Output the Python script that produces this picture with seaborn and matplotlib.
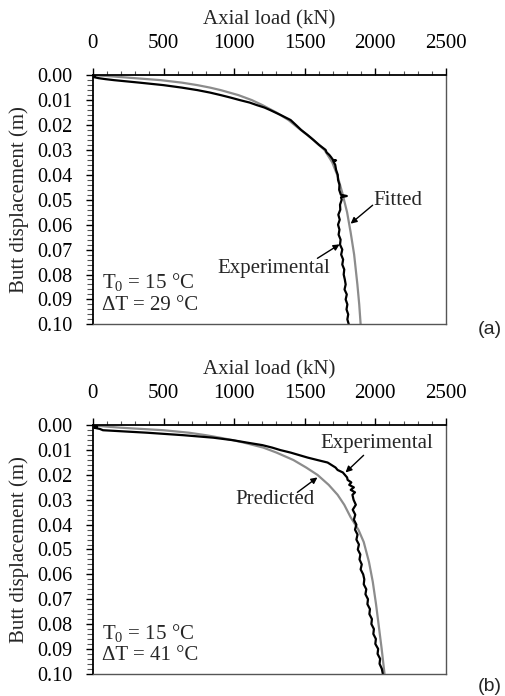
import numpy as np
import pandas as pd
import matplotlib
matplotlib.use("Agg")
import matplotlib.pyplot as plt
import seaborn as sns
from matplotlib.ticker import MultipleLocator, FormatStrFormatter

# ---------------- data ----------------
# Panel (a): experimental
a_exp_disp = [0.000, 0.0004, 0.0008, 0.0012, 0.0016, 0.002, 0.003, 0.004, 0.005, 0.006,
              0.007, 0.008, 0.009, 0.010, 0.011, 0.012, 0.013, 0.014, 0.016, 0.018,
              0.020, 0.022, 0.024, 0.026, 0.028, 0.030, 0.031, 0.032, 0.033, 0.034,
              0.0342, 0.0345, 0.036, 0.038, 0.040, 0.042, 0.044, 0.046, 0.048, 0.0485,
              0.049, 0.050, 0.052, 0.054, 0.056, 0.058, 0.060, 0.062, 0.064, 0.066,
              0.068, 0.070, 0.072, 0.074, 0.076, 0.078, 0.080, 0.082, 0.084, 0.086,
              0.088, 0.090, 0.092, 0.094, 0.096, 0.098, 0.100]
a_exp_load = [0, 15, 8, 40, 90, 150, 330, 500, 630, 740,
              830, 905, 975, 1040, 1110, 1160, 1215, 1255, 1330, 1400,
              1438, 1475, 1520, 1562, 1602, 1648, 1655, 1674, 1688, 1700,
              1722, 1702, 1716, 1722, 1734, 1736, 1746, 1744, 1756, 1798,
              1757, 1762, 1750, 1752, 1738, 1748, 1736, 1746, 1740, 1754,
              1750, 1766, 1758, 1772, 1766, 1780, 1776, 1784, 1790, 1782,
              1798, 1790, 1802, 1796, 1808, 1802, 1812]

# Panel (a): fitted
a_fit_disp = [0.000, 0.0005, 0.001, 0.002, 0.003, 0.004, 0.005, 0.006, 0.008, 0.010,
              0.012, 0.015, 0.018, 0.021, 0.025, 0.030, 0.035, 0.040, 0.047, 0.055,
              0.063, 0.072, 0.084, 0.092, 0.100]
a_fit_load = [0, 140, 250, 480, 630, 740, 830, 905, 1030, 1125,
              1200, 1300, 1385, 1450, 1540, 1640, 1695, 1730, 1765, 1800,
              1825, 1850, 1873, 1886, 1896]

# Panel (b): experimental
b_exp_disp = [0.000, 0.0005, 0.001, 0.0015, 0.002, 0.003, 0.004, 0.005, 0.006, 0.007,
              0.008, 0.009, 0.010, 0.011, 0.012, 0.013, 0.014, 0.015, 0.016, 0.017,
              0.018, 0.019, 0.020, 0.021, 0.022, 0.023, 0.024, 0.025, 0.026, 0.027,
              0.028, 0.030, 0.032, 0.034, 0.036, 0.038, 0.040, 0.042, 0.044, 0.046,
              0.048, 0.050, 0.052, 0.054, 0.056, 0.058, 0.060, 0.062, 0.064, 0.066,
              0.068, 0.070, 0.072, 0.074, 0.076, 0.078, 0.080, 0.082, 0.084, 0.086,
              0.088, 0.090, 0.092, 0.094, 0.096, 0.098, 0.100]
b_exp_load = [0, 30, 10, 50, 71, 383, 640, 852, 990, 1093,
              1200, 1270, 1328, 1400, 1460, 1520, 1590, 1662, 1690, 1718,
              1733, 1770, 1785, 1800, 1804, 1830, 1815, 1848, 1826, 1856,
              1838, 1846, 1862, 1840, 1858, 1848, 1866, 1856, 1874, 1866,
              1884, 1876, 1894, 1888, 1904, 1896, 1914, 1922, 1918, 1936,
              1930, 1948, 1944, 1962, 1958, 1976, 1972, 1990, 1986, 2004,
              2000, 2020, 2016, 2034, 2030, 2046, 2053]

# Panel (b): predicted
b_pred_disp = [0.000, 0.0005, 0.001, 0.002, 0.003, 0.004, 0.005, 0.006, 0.007, 0.009,
               0.011, 0.014, 0.017, 0.020, 0.024, 0.028, 0.032, 0.037, 0.042, 0.047,
               0.055, 0.063, 0.072, 0.081, 0.090, 0.100]
b_pred_load = [0, 90, 200, 500, 680, 800, 900, 990, 1070, 1207,
               1300, 1420, 1510, 1591, 1670, 1733, 1780, 1825, 1880, 1918,
               1955, 1982, 2005, 2025, 2045, 2065]

x_ticks = [0, 500, 1000, 1500, 2000, 2500]
y_ticks = [0.00, 0.01, 0.02, 0.03, 0.04, 0.05, 0.06, 0.07, 0.08, 0.09, 0.10]

# ---------------- style ----------------
sns.set_theme(style="ticks")
plt.rcParams["font.family"] = ["Liberation Serif", "DejaVu Serif"]
plt.rcParams["mathtext.fontset"] = "custom"
plt.rcParams["mathtext.rm"] = "Liberation Serif"
plt.rcParams["mathtext.it"] = "Liberation Serif:italic"
FS = 15

fig = plt.figure(figsize=(5.05, 6.96), dpi=100)
ax_a = fig.add_axes([0.184, 0.534, 0.699, 0.358])
ax_b = fig.add_axes([0.184, 0.032, 0.699, 0.357])

EXP_COL = "black"
FIT_COL = "#8c8c8c"


def style_axis(ax):
    ax.set_xlim(0, 2500)
    ax.set_ylim(0.10, 0.0)
    ax.xaxis.tick_top()
    ax.xaxis.set_label_position("top")
    ax.set_xticks(x_ticks)
    ax.set_xticklabels([str(t) for t in x_ticks])
    ax.xaxis.set_minor_locator(MultipleLocator(100))
    ax.set_yticks(y_ticks)
    ax.yaxis.set_major_formatter(FormatStrFormatter("%.2f"))
    ax.yaxis.set_minor_locator(MultipleLocator(0.002))
    ax.tick_params(axis="x", which="major", direction="out", length=5, width=1,
                   pad=11, labelsize=FS, colors="black")
    ax.tick_params(axis="x", which="minor", direction="out", length=3, width=0.8,
                   top=True, bottom=False, color="#555555")
    ax.tick_params(axis="y", which="major", direction="out", length=5, width=1,
                   pad=10, labelsize=14.5, colors="black")
    ax.tick_params(axis="y", which="minor", direction="out", length=4, width=0.8,
                   color="#555555")
    ax.set_xlabel("Axial load (kN)", fontsize=FS, labelpad=7)
    ax.set_ylabel("Butt displacement (m)", fontsize=FS, labelpad=6)
    for s in ["left", "top"]:
        ax.spines[s].set_color("black")
        ax.spines[s].set_linewidth(1.3)
    for s in ["right", "bottom"]:
        ax.spines[s].set_color("#555555")
        ax.spines[s].set_linewidth(1.0)


arrow_kw = dict(arrowstyle="-|>", color="black", lw=1.0, mutation_scale=9,
                shrinkA=0, shrinkB=0)

# Panel (a)
sns.lineplot(x=a_fit_load, y=a_fit_disp, sort=False, estimator=None,
             color=FIT_COL, lw=1.6, ax=ax_a)
sns.lineplot(x=a_exp_load, y=a_exp_disp, sort=False, estimator=None,
             color=EXP_COL, lw=1.6, ax=ax_a)
style_axis(ax_a)
ax_a.text(1988, 0.0502, "Fitted", fontsize=FS, ha="left", va="center")
ax_a.annotate("", xy=(1825, 0.0596), xytext=(1981, 0.0522), arrowprops=arrow_kw)
ax_a.text(1683, 0.0776, "Experimental", fontsize=FS, ha="right", va="center")
ax_a.annotate("", xy=(1747, 0.0679), xytext=(1590, 0.0735), arrowprops=arrow_kw)
ax_a.text(0.025, 0.169, "T$_{\\mathrm{0}}$ = 15 °C", transform=ax_a.transAxes,
          fontsize=FS, ha="left", va="center")
ax_a.text(0.025, 0.076, "ΔT = 29 °C", transform=ax_a.transAxes,
          fontsize=FS, ha="left", va="center")

# Panel (b)
sns.lineplot(x=b_pred_load, y=b_pred_disp, sort=False, estimator=None,
             color=FIT_COL, lw=1.6, ax=ax_b)
sns.lineplot(x=b_exp_load, y=b_exp_disp, sort=False, estimator=None,
             color=EXP_COL, lw=1.6, ax=ax_b)
style_axis(ax_b)
ax_b.text(1612, 0.0073, "Experimental", fontsize=FS, ha="left", va="center")
ax_b.annotate("", xy=(1789, 0.0190), xytext=(1917, 0.0121), arrowprops=arrow_kw)
ax_b.text(1008, 0.0298, "Predicted", fontsize=FS, ha="left", va="center")
ax_b.annotate("", xy=(1590, 0.0210), xytext=(1448, 0.0270), arrowprops=arrow_kw)
ax_b.text(0.025, 0.165, "T$_{\\mathrm{0}}$ = 15 °C", transform=ax_b.transAxes,
          fontsize=FS, ha="left", va="center")
ax_b.text(0.025, 0.072, "ΔT = 41 °C", transform=ax_b.transAxes,
          fontsize=FS, ha="left", va="center")

fig.text(0.97, 0.526, "(a)", fontsize=14, family="Liberation Sans",
         ha="center", va="center")
fig.text(0.97, 0.014, "(b)", fontsize=14, family="Liberation Sans",
         ha="center", va="center")

fig.savefig("out.png", dpi=100)
